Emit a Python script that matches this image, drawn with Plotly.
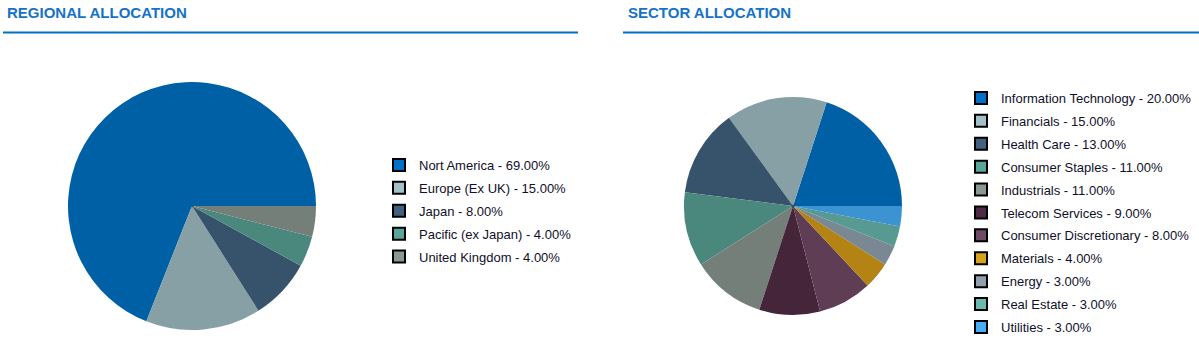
import plotly.graph_objects as go

# ---- data ----
region_labels = ["Nort America", "Europe (Ex UK)", "Japan", "Pacific (ex Japan)", "United Kingdom"]
region_values = [69.00, 15.00, 8.00, 4.00, 4.00]
region_pie_colors = ["#0060A6", "#87A0A6", "#36536B", "#4A877D", "#747F7A"]
region_legend_colors = ["#0070C8", "#A3C0C8", "#426080", "#5AA59A", "#8A9792"]

sector_labels = ["Information Technology", "Financials", "Health Care", "Consumer Staples",
                 "Industrials", "Telecom Services", "Consumer Discretionary", "Materials",
                 "Energy", "Real Estate", "Utilities"]
sector_values = [20.00, 15.00, 13.00, 11.00, 11.00, 9.00, 8.00, 4.00, 3.00, 3.00, 3.00]
sector_pie_colors = ["#0060A6", "#87A0A6", "#36536B", "#4A877D", "#747F7A", "#45253A",
                     "#5E3D55", "#B38413", "#7A8893", "#579A91", "#3C93D2"]
sector_legend_colors = ["#0070C8", "#A3C0C8", "#426080", "#5AA59A", "#8A9792", "#4F2A45",
                        "#6F4A66", "#D8A21C", "#919FAC", "#6ABAAE", "#47AEF5"]

titles = ["REGIONAL ALLOCATION", "SECTOR ALLOCATION"]

W, H = 1199, 347
FONT = "Liberation Sans, Arial, sans-serif"
TEXT_COLOR = "#10102a"
TITLE_COLOR = "#1672C8"


def px_domain(cx, cy, r):
    return dict(x=[(cx - r) / W, (cx + r) / W], y=[(H - cy - r) / H, (H - cy + r) / H])


def tiny_domain(cx, cy):
    e = 0.3
    return dict(x=[(cx - e) / W, (cx + e) / W], y=[(H - cy - e) / H, (H - cy + e) / H])


fig = go.Figure()

groups = [
    (region_labels, region_values, region_pie_colors, region_legend_colors, (192, 206, 124), "legend"),
    (sector_labels, sector_values, sector_pie_colors, sector_legend_colors, (793, 206, 109), "legend2"),
]

for labels, values, pcols, lcols, (cx, cy, r), leg in groups:
    # legend entries (tiny pies hidden under the main pie centre)
    for lab, val, lc in zip(labels, values, lcols):
        name = f"{lab} - {val:.2f}%"
        fig.add_trace(go.Pie(
            labels=[name], values=[val],
            marker=dict(colors=[lc], line=dict(color="#000000", width=2)),
            domain=tiny_domain(cx, cy), textinfo="none", hoverinfo="skip", sort=False,
            legend=leg, legendgroup=name, showlegend=True,
        ))
    # main pie: first slice starts at 3 o'clock and runs counterclockwise
    total = sum(values)
    rot = 90 - 360 * values[0] / total
    fig.add_trace(go.Pie(
        labels=labels, values=values, marker=dict(colors=pcols, line=dict(width=0)),
        domain=px_domain(cx, cy, r), textinfo="none", sort=False, direction="counterclockwise",
        rotation=rot, showlegend=False, hovertemplate="%{label}: %{value:.2f}%<extra></extra>",
    ))

annotations = [
    dict(text=f"<b>{titles[0]}</b>", x=5 / W, y=1 - 12 / H, xref="paper", yref="paper",
         xanchor="left", yanchor="middle", showarrow=False,
         font=dict(family=FONT, size=15, color=TITLE_COLOR)),
    dict(text=f"<b>{titles[1]}</b>", x=626 / W, y=1 - 12 / H, xref="paper", yref="paper",
         xanchor="left", yanchor="middle", showarrow=False,
         font=dict(family=FONT, size=15, color=TITLE_COLOR)),
]
shapes = [
    dict(type="line", xref="paper", yref="paper", x0=3 / W, x1=578 / W, y0=1 - 32.5 / H, y1=1 - 32.5 / H,
         line=dict(color="#0070C0", width=2)),
    dict(type="line", xref="paper", yref="paper", x0=623 / W, x1=1, y0=1 - 32.5 / H, y1=1 - 32.5 / H,
         line=dict(color="#0070C0", width=2)),
]

legend_common = dict(font=dict(family=FONT, size=13, color=TEXT_COLOR), bgcolor="rgba(0,0,0,0)",
                     tracegroupgap=3, traceorder="grouped", xanchor="left", yanchor="top",
                     itemclick=False, itemdoubleclick=False)

fig.update_layout(
    width=W, height=H, margin=dict(l=0, r=0, t=0, b=0),
    paper_bgcolor="white", plot_bgcolor="white",
    annotations=annotations, shapes=shapes,
    legend=dict(x=379 / W, y=1 - 150 / H, **legend_common),
    legend2=dict(x=961 / W, y=1 - 83 / H, **legend_common),
)

fig.write_html("out.html")
